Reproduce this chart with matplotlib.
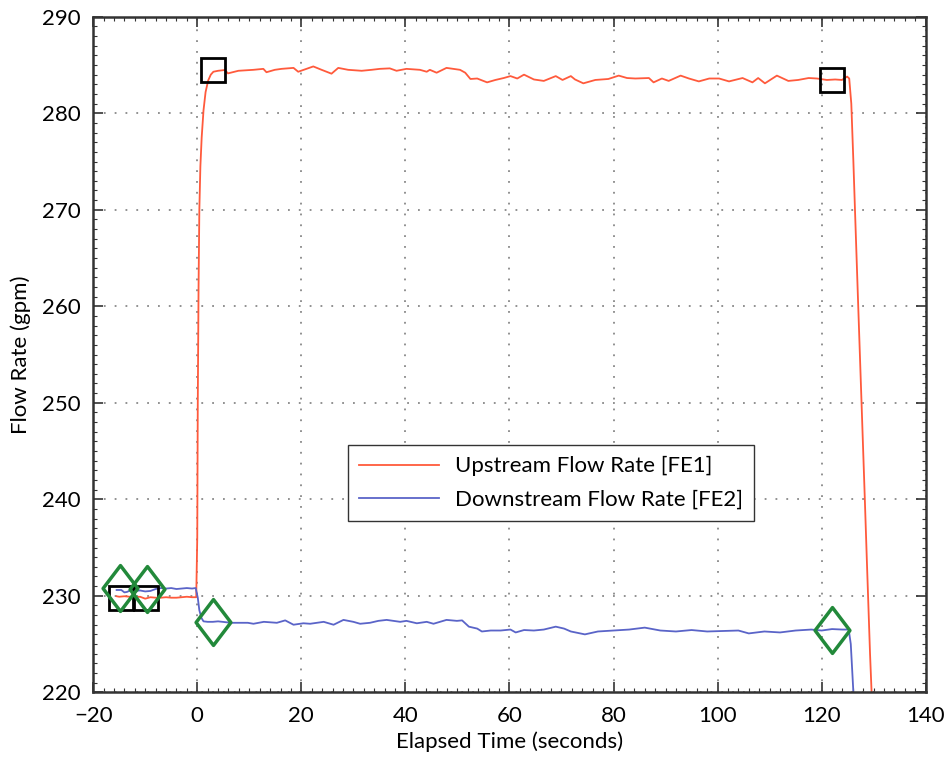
import matplotlib.pyplot as plt
from matplotlib.ticker import MultipleLocator
from matplotlib.path import Path

plt.rcParams['font.family'] = ['Lato', 'DejaVu Sans']

# upstream flow rate [FE1]
t_up = [-15.5, -15, -14, -13, -12, -11, -10, -9, -8, -7, -6, -5, -4, -3, -2, -1, -0.2,
        0.0, 0.1, 0.25, 0.4, 0.6, 0.85, 1.2, 1.6, 2.1, 2.6, 3.1, 4.0,
        5.3, 5.9, 7.9, 10.8, 12.7, 13.3, 14.9, 16.2, 18.5, 19.4, 22.3, 23.9, 25.8, 27.1,
        29.0, 31.6, 33.5, 35.1, 37.0, 38.3, 40.2, 42.8, 44.1, 44.7, 46.0, 47.9, 50.5,
        51.5, 52.5, 53.8, 55.7, 57.3, 58.9, 60.2, 61.5, 62.8, 64.7, 66.6, 68.9, 70.2,
        71.8, 72.6, 74.2, 76.5, 79.0, 81.0, 82.6, 84.2, 86.8, 87.7, 89.3, 90.6, 92.9,
        94.5, 96.4, 98.4, 100.3, 102.2, 104.8, 106.7, 107.8, 109.1, 111.4, 113.6, 115.5,
        117.5, 119.1, 121.0, 122.6, 123.9, 124.9, 125.3, 125.7, 126.1, 126.5, 127.0,
        127.7, 128.3, 128.7, 129.3, 129.6, 130.0]
flow_up = [229.95, 229.9, 229.95, 229.9, 229.85, 229.9, 229.7, 229.85, 229.8, 229.8, 229.85,
           229.8, 229.8, 229.85, 229.9, 229.85, 229.85,
           236.0, 250.0, 262.0, 270.0, 274.5, 277.5, 280.3, 282.2, 283.4, 284.0, 284.3, 284.4,
           284.48, 284.13, 284.4, 284.5, 284.6, 284.25, 284.5, 284.6, 284.7, 284.3, 284.85,
           284.5, 284.1, 284.7, 284.5, 284.4, 284.5, 284.6, 284.65, 284.4, 284.6, 284.5,
           284.3, 284.5, 284.2, 284.7, 284.5, 284.2, 283.55, 283.6, 283.2, 283.45, 283.65,
           283.85, 283.6, 284.0, 283.5, 283.35, 283.85, 283.45, 283.85, 283.5, 283.1, 283.45,
           283.55, 283.9, 283.65, 283.6, 283.65, 283.2, 283.6, 283.35, 283.9, 283.6, 283.3,
           283.6, 283.6, 283.3, 283.65, 283.2, 283.65, 283.1, 283.9, 283.35, 283.45, 283.65,
           283.6, 283.45, 283.5, 283.45, 283.8, 283.6, 281.0, 275.0, 268.5, 260.5, 249.5,
           240.0, 233.5, 224.0, 220.0, 214.0]

# downstream flow rate [FE2]
t_down = [-15.5, -15, -14.6, -14, -13.5, -12.7, -12, -11, -10, -9, -8, -7, -6, -5, -4, -3,
          -2, -1, -0.3, 0.1, 0.4, 0.8, 1.2, 2.0, 3.0, 4.0, 6.5, 9.7, 10.8, 12.8, 15.3, 16.9,
          18.5, 20.4, 21.7, 24.3, 26.2, 28.1, 30.0, 31.3, 33.2, 34.8, 36.4, 39.0, 40.2,
          42.2, 44.1, 45.4, 47.9, 49.9, 50.9, 52.2, 53.8, 54.7, 56.4, 58.3, 60.2, 61.2,
          62.8, 64.7, 66.6, 68.9, 70.5, 71.8, 74.5, 77, 80, 83, 86, 89, 92, 95, 98, 101,
          104, 106, 109, 112, 115, 118, 120, 122, 124, 125.2, 125.6, 126.0, 126.3]
flow_down = [230.6, 230.6, 230.6, 230.35, 230.4, 230.6, 230.5, 230.55, 230.45, 230.5, 230.7,
             230.8, 230.75, 230.8, 230.7, 230.75, 230.8, 230.75, 230.8, 229.8, 228.5, 227.7,
             227.35, 227.3, 227.3, 227.35, 227.2, 227.2, 227.1, 227.3, 227.2, 227.45, 227.0,
             227.15, 227.1, 227.3, 227.0, 227.5, 227.3, 227.1, 227.2, 227.4, 227.5, 227.3,
             227.4, 227.15, 227.3, 227.1, 227.5, 227.4, 227.45, 226.8, 226.6, 226.3, 226.4,
             226.4, 226.5, 226.2, 226.45, 226.4, 226.5, 226.8, 226.6, 226.3, 226.0, 226.3,
             226.4, 226.5, 226.7, 226.4, 226.3, 226.45, 226.3, 226.35, 226.4, 226.1, 226.3,
             226.2, 226.4, 226.5, 226.4, 226.55, 226.5, 226.5, 225.0, 221.0, 218.0]

# event markers
sq_t = [-14.7, -9.8, 3.1, 122.0]
sq_flow = [229.8, 229.8, 284.5, 283.4]
dm_t = [-14.8, -9.7, 3.1, 122.0]
dm_flow = [230.8, 230.7, 227.3, 226.45]

xticks = [-20, 0, 20, 40, 60, 80, 100, 120, 140]
yticks = [220, 230, 240, 250, 260, 270, 280, 290]

diamond = Path([(0, 1), (0.76, 0), (0, -1), (-0.76, 0), (0, 1)],
               [Path.MOVETO, Path.LINETO, Path.LINETO, Path.LINETO, Path.CLOSEPOLY])

fig = plt.figure(figsize=(9.51, 7.61), dpi=100)
ax = fig.add_axes([0.098, 0.0903, 0.8754, 0.8877])

ax.plot(t_up, flow_up, color='#ff5a3c', lw=1.3, label='Upstream Flow Rate [FE1]')
ax.plot(t_down, flow_down, color='#5a64c8', lw=1.3, label='Downstream Flow Rate [FE2]')
ax.plot(sq_t, sq_flow, ls='none', marker='s', ms=17, mfc='none', mec='black', mew=2)
ax.plot(dm_t, dm_flow, ls='none', marker=diamond, ms=33, mfc='none', mec='#22893a', mew=2.5)

ax.set_xlim(-20, 140)
ax.set_ylim(220, 290)
ax.set_xticks(xticks)
ax.set_yticks(yticks)
ax.xaxis.set_minor_locator(MultipleLocator(2))
ax.yaxis.set_minor_locator(MultipleLocator(1))
ax.tick_params(which='both', direction='in', top=True, right=True, colors='#333333',
               labelcolor='black', labelsize=16)
ax.tick_params(which='major', length=7, width=1.2)
ax.tick_params(which='minor', length=3, width=0.8)
ax.tick_params(axis='x', which='major', pad=10)
ax.tick_params(axis='y', which='major', pad=9)
ax.grid(True, which='major', color='#888888', ls=(0, (1, 5)), lw=1.3)
for s in ax.spines.values():
    s.set_color('#333333')
    s.set_linewidth(1.8)

ax.set_xlabel('Elapsed Time (seconds)', fontsize=16, labelpad=4)
ax.set_ylabel('Flow Rate (gpm)', fontsize=16, labelpad=8)

leg = ax.legend(loc='upper left', bbox_to_anchor=(0.306, 0.366), borderaxespad=0,
                fontsize=16, fancybox=False, edgecolor='#333333', framealpha=1,
                handlelength=3.6, borderpad=0.5, labelspacing=0.6, handletextpad=0.7)
leg.get_frame().set_linewidth(1.0)

fig.savefig('out.png', dpi=100)
